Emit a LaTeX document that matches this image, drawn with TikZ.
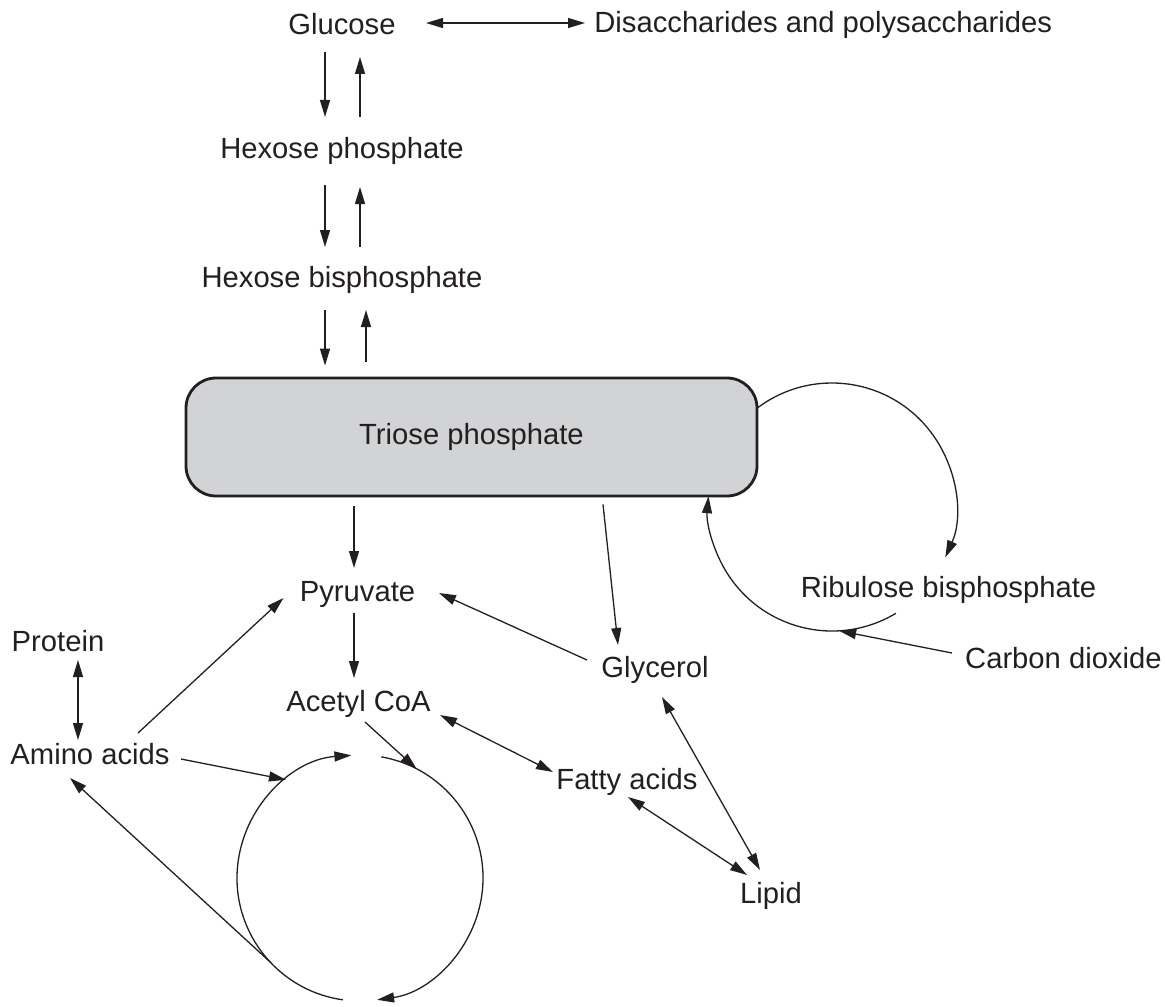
\documentclass[tikz,border=0pt]{standalone}
\usepackage{fontspec}
\setmainfont{Liberation Sans}
\usetikzlibrary{arrows.meta,calc}
\definecolor{ink}{RGB}{35,31,32}
\definecolor{boxgray}{RGB}{209,211,212}
\begin{document}
\begin{tikzpicture}[x=0.5pt,y=0.5pt,
  lbl/.style={inner sep=0pt,anchor=base,text=ink,font=\fontsize{14.6pt}{17pt}\selectfont},
  conn/.style={draw=ink,line width=0.65pt},
  arr/.style={conn,-{Triangle[length=8.5pt,width=5pt]}},
  darr/.style={conn,{Triangle[length=8.5pt,width=5pt]}-{Triangle[length=8.5pt,width=5pt]}},
  tpbox/.style={draw=ink,fill=boxgray,line width=1.4pt,rounded corners=15pt,
    minimum width=285.5pt,minimum height=59pt,inner sep=0pt,text=ink,
    font=\fontsize{14.6pt}{17pt}\selectfont}]
\useasboundingbox (0,0) rectangle (1165,-1006);

% nodes
\node[lbl] (glu) at (342,-35) {Glucose};
\node[lbl,anchor=base west] (dis) at (594,-33) {Disaccharides and polysaccharides};
\node[lbl] (hp) at (342,-158) {Hexose phosphate};
\node[lbl] (hbp) at (342,-287) {Hexose bisphosphate};
\node[tpbox] (tp) at (471.5,-437) {Triose phosphate};
\node[lbl] (pyr) at (357.5,-601) {Pyruvate};
\node[lbl] (ace) at (358.5,-711) {Acetyl CoA};
\node[lbl] (gly) at (655,-677) {Glycerol};
\node[lbl] (pro) at (58,-651) {Protein};
\node[lbl] (ami) at (90,-764) {Amino acids};
\node[lbl] (fat) at (627,-789) {Fatty acids};
\node[lbl] (lip) at (771,-903) {Lipid};
\node[lbl] (rib) at (948.5,-597) {Ribulose bisphosphate};
\node[lbl,anchor=base east] (co2) at (1162,-668) {Carbon dioxide};
\coordinate (kc) at (360,-878);
\coordinate (cc) at (832,-507);

% sugar chain
\draw[darr] ([shift={(84,12)}]glu.base) -- ([shift={(-9,10)}]dis.base west);
\draw[arr] ([shift={(-17,-17)}]glu.base) -- ([shift={(-17,41)}]hp.base);
\draw[arr] ([shift={(18,41)}]hp.base) -- ([shift={(18,-22)}]glu.base);
\draw[arr] ([shift={(-17,-27)}]hp.base) -- ([shift={(-17,40)}]hbp.base);
\draw[arr] ([shift={(18,40)}]hbp.base) -- ([shift={(18,-29)}]hp.base);
\draw[arr] ([shift={(-17,-23)}]hbp.base) -- ([shift={(-146.5,11)}]tp.north);
\draw[arr] ([shift={(-105.5,15)}]tp.north) -- ([shift={(24,-23)}]hbp.base);

% from triose phosphate
\draw[arr] ([shift={(-117.5,-9)}]tp.south) -- ([shift={(-3.5,33)}]pyr.base);
\draw[arr] ([shift={(131.5,-7)}]tp.south) -- ([shift={(-37,32)}]gly.base);
\draw[arr] ([shift={(-68,17)}]gly.base) -- ([shift={(81.5,8)}]pyr.base);
\draw[arr] ([shift={(-3.5,-12)}]pyr.base) -- ([shift={(-4.5,33)}]ace.base);

% amino acids
\draw[darr] ([shift={(20,-9)}]pro.base) -- ([shift={(-12,24)}]ami.base);
\draw[arr] ([shift={(48,31)}]ami.base) -- ([shift={(-74,3)}]pyr.base);
\draw[arr] ([shift={(91,5)}]ami.base) -- ($(kc)+(127:123)$);
\draw[arr] ($(kc)+(-137:123)$) -- ([shift={(-20,-14)}]ami.base);
\draw[arr] ([shift={(6.5,-11)}]ace.base) -- ($(kc)+(62.6:123)$);

% Krebs cycle
\draw[arr] ($(kc)+(-98:123)$) arc[start angle=-98,end angle=-266,radius=123];
\draw[arr] ($(kc)+(80:123)$) arc[start angle=80,end angle=-82,radius=123];

% lipids
\draw[darr] ([shift={(81.5,-4)}]ace.base) -- ([shift={(-74,17)}]fat.base);
\draw[darr] ([shift={(1,-8)}]fat.base) -- ([shift={(-24,28)}]lip.base);
\draw[darr] ([shift={(7,-20)}]gly.base) -- ([shift={(-11,33)}]lip.base);

% Calvin cycle
\draw[arr] ($(cc)+(127:124)$) arc[start angle=127,end angle=-24,radius=124];
\draw[arr] ($(cc)+(-59:124)$) arc[start angle=-59,end angle=-185,radius=124];
\draw[arr] ([shift={(-210,15)}]co2.base east) -- ($(cc)+(-86.7:124)$);
\end{tikzpicture}
\end{document}
